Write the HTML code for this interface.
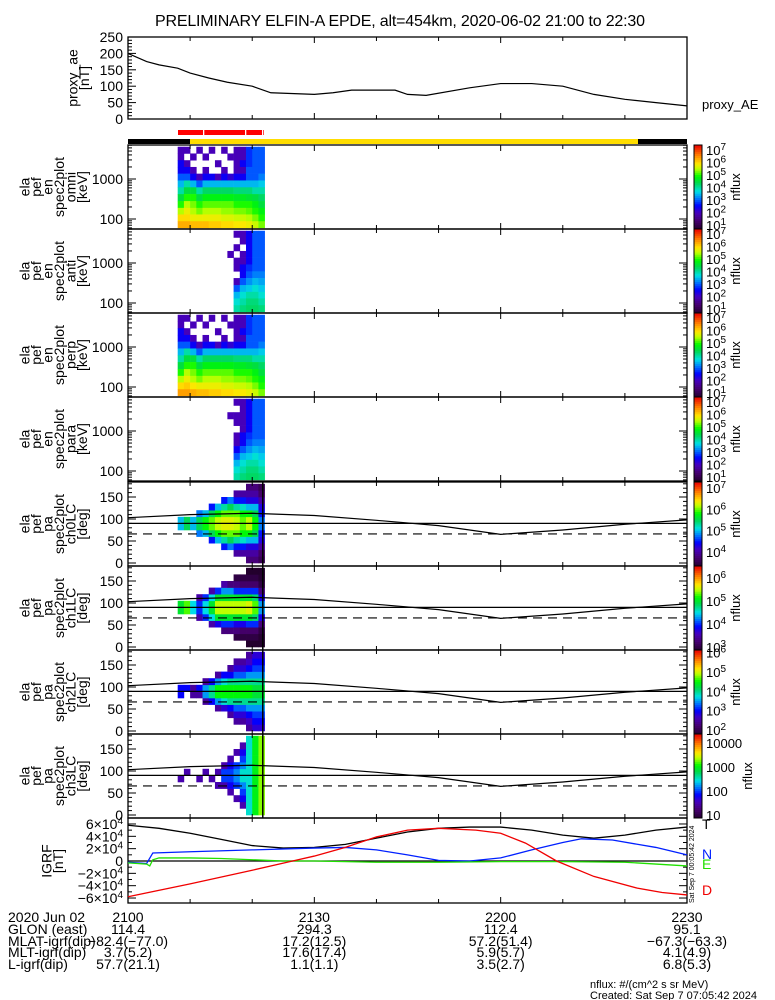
<!DOCTYPE html>
<html><head><meta charset="utf-8"><style>
html,body{margin:0;padding:0;background:#fff;}
svg{display:block;font-family:"Liberation Sans",sans-serif;}
</style></head><body>
<svg id="c" width="775" height="1000" viewBox="0 0 775 1000" xmlns="http://www.w3.org/2000/svg">
<rect x="0" y="0" width="775" height="1000" fill="#fff"/>
<text x="400" y="26" font-size="16" text-anchor="middle" textLength="490">PRELIMINARY ELFIN-A EPDE, alt=454km, 2020-06-02 21:00 to 22:30</text>
</svg>
<script>
// ---------- data ----------
const aeTimes = [0,3,5,8,10,13,16,20,23,30,33,36,43,45,48,55,60,65,70,75,80,85,90];
const aeValues = [200,175,165,155,140,125,112,100,80,75,80,88,88,75,72,95,108,108,100,75,60,50,40];
const aeTicks = [0,50,100,150,200,250];

const specTimes = [8,9,10,11,12,13,14,15,16,17,18,19,20,21];
const energyEdges = [60,88,130,190,280,420,620,920,1360,2000,2950,4350,6400];
const omniFlux = [
[2,2,2.5,2.5,3,3.5,4,4.5,5,5.5,6,6.3],
[2,0,2,2.5,3,4,4.5,5,5.5,5.8,6,6.3],
[0,2,0,2,2.5,3.5,4.5,5,5.3,5.5,5.8,6.2],
[2,0,0,0,2,3,4,4.5,5,5.3,5.8,6.2],
[0,2,0,2,2.5,3.5,4.3,4.8,5.2,5.5,5.8,6.2],
[2,0,0,0,2.5,3.5,4.3,4.8,5.2,5.5,5.8,6.1],
[0,0,2,0,2,3.5,4.3,4.8,5.2,5.5,5.8,6.1],
[2,0,0,2,2.5,3.5,4.3,4.8,5.2,5.4,5.7,6],
[0,2,0,0,2.2,3.5,4.3,4.8,5.2,5.4,5.7,6],
[2,2,2,2,2.5,3.5,4.2,4.7,5,5.3,5.6,5.9],
[2,2,2.5,2,2.5,3.5,4.2,4.7,5,5.3,5.6,5.9],
[2.8,2.8,2.8,3,3,3.5,4.2,4.6,5,5.2,5.5,5.8],
[3,3,3,3,3,3.5,4,4.5,4.8,5,5.3,5.6],
[3,3,3,3,3.2,3.6,4,4.3,4.5,4.8,5,5.3]];
const antiFlux = [
[0,0,0,0,0,0,0,0,0,0,0,0],[0,0,0,0,0,0,0,0,0,0,0,0],[0,0,0,0,0,0,0,0,0,0,0,0],
[0,0,0,0,0,0,0,0,0,0,0,0],[0,0,0,0,0,0,0,0,0,0,0,0],[0,0,0,0,0,0,0,0,0,0,0,0],
[0,0,0,0,0,0,0,0,0,0,0,0],[0,0,0,0,0,0,0,0,0,0,0,0],
[0,0,0,2,0,0,0,0,0,0,0,0],
[2,0,2,0,2,2,0,2,3,3.5,3.8,4],
[2,2,0,2,2,2.5,2.5,3,3.5,3.8,4,4.2],
[2.5,2.5,2.5,2.5,2.5,2.8,3,3.3,3.6,4,4.2,4.3],
[3,3,3,3,3,3,3.2,3.5,3.8,4,4.2,4.3],
[3,3,3,3,3,3,3.2,3.4,3.6,3.8,4,4.2]];
const perpFlux = [
[2,2,2.5,2.5,3,3.5,4,4.5,5,5.5,6,6.4],
[2,0,2,2.5,3,4,4.5,5,5.5,5.8,6.1,6.4],
[0,2,0,2,2.5,3.5,4.5,5,5.3,5.5,5.9,6.3],
[2,0,0,0,2,3,4,4.5,5,5.3,5.8,6.2],
[0,2,0,2,2.5,3.5,4.3,4.8,5.2,5.5,5.8,6.2],
[2,0,0,0,2.5,3.5,4.3,4.8,5.2,5.5,5.8,6.1],
[0,0,2,0,2,3.5,4.3,4.8,5.2,5.5,5.8,6.1],
[2,0,0,2,2.5,3.5,4.3,4.8,5.2,5.4,5.7,6],
[0,2,0,0,2.2,3.5,4.3,4.8,5.2,5.4,5.7,6],
[2,2,2,2,2.5,3.5,4.2,4.7,5,5.3,5.6,5.9],
[2,2,2.5,2,2.5,3.5,4.2,4.7,5,5.3,5.6,5.9],
[2.8,2.8,2.8,3,3,3.5,4.2,4.6,5,5.2,5.5,5.8],
[3,3,3,3,3,3.5,4,4.5,4.8,5,5.3,5.6],
[3,3,3,3,3.2,3.6,4,4.3,4.5,4.8,5,5.3]];
const paraFlux = [
[0,0,0,0,0,0,0,0,0,0,0,0],[0,0,0,0,0,0,0,0,0,0,0,0],[0,0,0,0,0,0,0,0,0,0,0,0],
[0,0,0,0,0,0,0,0,0,0,0,0],[0,0,0,0,0,0,0,0,0,0,0,0],[0,0,0,0,0,0,0,0,0,0,0,0],
[0,0,0,0,0,0,0,0,0,0,0,0],[0,0,0,0,0,0,0,0,0,0,0,0],
[0,0,2,0,0,0,0,0,0,0,0,0],
[2,0,2,2,0,2,2,2.5,3,3.5,3.8,4],
[2,2,2,2,2,2.5,2.5,3,3.5,3.8,4,4.2],
[2.5,2.5,2.5,2.5,2.5,2.8,3,3.3,3.6,4,4.2,4.3],
[3,3,3,3,3,3,3.2,3.5,3.8,4,4.2,4.3],
[3,3,3,3,3,3,3.2,3.4,3.6,3.8,4,4.2]];

const paEdges = [0,15,30,45,60,75,90,105,120,135,150,165,180];
const ch0Flux = [
[0,0,0,0,0,5,5,0,0,0,0,0],[0,0,0,0,0,5.5,5.5,0,0,0,0,0],[0,0,0,0,0,5,5,0,0,0,0,0],
[0,0,0,0,4.8,5.5,5.5,4.8,0,0,0,0],[0,0,0,0,5,5.8,5.8,5,0,0,0,0],
[0,0,0,4.5,5.5,6,6,5.5,4.5,0,0,0],[0,0,0,5,5.8,6.2,6.2,5.8,5,0,0,0],
[0,0,4.5,5.3,6,6.3,6.3,6,5.3,4.5,0,0],[0,0,4.8,5.5,6,6.3,6.3,6,5.5,4.8,0,0],
[0,4,4.5,5.3,6,6.2,6.2,6,5.3,4.5,4,0],[0,4,4.5,5.2,5.8,6,6,5.8,5.2,4.5,4,0],
[3.8,4,4.3,5,5.8,6.2,6.2,5.8,5,4.3,4,3.8],[3.8,4,4.3,5,5.5,5.8,5.8,5.5,5,4.3,4,3.8],
[3.6,3.7,4,4.3,4.5,4.8,4.8,4.5,4.3,4,3.7,3.6]];
const ch1Flux = [
[0,0,0,0,0,5,5,0,0,0,0,0],[0,0,0,0,0,5.3,5.3,0,0,0,0,0],[0,0,0,0,0,4.5,4.5,0,0,0,0,0],
[0,0,0,0,3.5,4,4,3.5,0,0,0,0],[0,0,0,0,4,4.5,4.5,4,0,0,0,0],
[0,0,0,3.5,4.5,5,5,4.5,3.5,0,0,0],[0,0,0,3.8,5,5.5,5.5,5,4,0,0,0],
[0,0,3.3,4,5,5.5,5.5,5,4.3,3.5,0,0],[0,0,3.3,4,5,5.5,5.5,5,4.3,3.3,0,0],
[0,3,3.3,3.8,5,5.5,5.5,5,4,3.3,3,0],[0,3,3.2,3.8,5,5.5,5.5,5,4,3.2,3,0],
[2.8,3,3.2,4,5,5.6,5.6,5,4,3.2,3,2.8],[2.8,3,3.2,4,4.8,5.3,5.3,4.8,4,3.2,3,2.8],
[2.8,2.9,3,3.3,3.8,4.3,4.3,3.8,3.3,3,2.9,2.8]];
const ch2Flux = [
[0,0,0,0,0,3,3,0,0,0,0,0],[0,0,0,0,0,0,3,0,0,0,0,0],[0,0,0,0,0,2.5,2.5,0,0,0,0,0],
[0,0,0,0,0,2.5,3,0,0,0,0,0],[0,0,0,0,2.5,3.5,3.5,2.5,0,0,0,0],
[0,0,0,0,3,4,4,3,0,0,0,0],[0,0,0,2.5,3.5,4.5,4.5,3.5,2.5,0,0,0],
[0,0,0,2.8,3.8,4.5,4.5,3.8,3,0,0,0],[0,0,2.5,3,4,4.5,4.5,4,3,2.5,0,0],
[0,2.5,2.8,3.3,4,4.5,4.5,4,3.3,2.8,2.5,0],[0,2.5,2.8,3.3,4,4.5,4.5,4,3.3,2.8,2.5,0],
[2.5,2.7,3,3.5,4,4.5,4.5,4,3.5,3,2.7,2.5],[2.8,3,3.2,3.5,4,4.3,4.3,4,3.5,3.2,3,2.8],
[2.8,3,3.2,3.5,4,4.3,4.3,4,3.5,3.2,3,2.8]];
const ch3Flux = [
[0,0,0,0,0,1.5,0,0,0,0,0,0],[0,0,0,0,0,0,1.5,0,0,0,0,0],[0,0,0,0,0,0,0,0,0,0,0,0],
[0,0,0,0,0,1.5,0,0,0,0,0,0],[0,0,0,0,0,0,1.5,0,0,0,0,0],
[0,0,0,0,0,1.5,0,0,0,0,0,0],[0,0,0,0,1.5,0,1.5,0,0,0,0,0],
[0,0,0,0,1.5,2,2,1.5,0,0,0,0],[0,0,0,1.5,1.8,2,2,1.8,1.5,0,0,0],
[0,0,1.5,0,2,2.2,2.2,2,0,1.5,0,0],[0,1.5,1.8,2,2.2,2.5,2.5,2.2,2,1.8,1.5,0],
[2.5,2.5,2.5,2.5,2.5,2.5,2.5,2.5,2.5,2.5,2.5,2.5],[3,3,3,3,3,3,3,3,3,3,3,3],
[3.3,3.3,3.3,3.3,3.3,3.3,3.3,3.3,3.3,3.3,3.3,3.3]];

const lcTimes = [0,10,20,30,40,50,60,70,80,90];
const lcAngles = [103,110,113,108,97,85,65,75,88,98];
const lossCone = 66;

const igrfTTimes = [0,5,10,15,20,25,30,35,40,45,50,55,60,65,70,75,80,85,90];
const igrfT = [58,53,45,35,25,21,22,27,37,47,53,55,55,50,42,37,42,50,55];
const igrfNTimes = [0,3,4,10,20,30,35,40,45,50,55,60,65,70,73,78,85,90];
const igrfN = [-2,-4,13,15,18,21,22,18,10,1,0,5,18,30,36,34,22,10];
const igrfETimes = [0,3,3.5,4,5,10,15,20,25,30,40,50,60,70,80,85,90];
const igrfE = [-3,-5,-8,2,5,5,4,2,0,0,-2,-2,-1,-1,-2,-5,-8];
const igrfDTimes = [0,10,20,26.5,30,35,40,45,50,56,60,64,69,75,82,86,90];
const igrfD = [-58,-37,-15,0,8,22,39,50,53,50,45,29,0,-25,-44,-51,-55];
const igrfTicks = [60,40,20,0,-20,-40,-60];

const footerRows = ["2020 Jun 02","GLON (east)","MLAT-igrf(dip)","MLT-igrf(dip)","L-igrf(dip)"];
const footerCols = [
 ["2100","114.4","-82.4(-77.0)","3.7(5.2)","57.7(21.1)"],
 ["2130","294.3","17.2(12.5)","17.6(17.4)","1.1(1.1)"],
 ["2200","112.4","57.2(51.4)","5.9(5.7)","3.5(2.7)"],
 ["2230","95.1","-67.3(-63.3)","4.1(4.9)","6.8(5.3)"]];
const footerTimes = [0,30,60,90];

// ---------- helpers ----------
const S = document.getElementById('c');
const NS = 'http://www.w3.org/2000/svg';
const X0 = 128, X1 = 687;
function xOf(t){ return X0 + t*(X1-X0)/90; }
function mk(tag, attrs, parent){
  const e = document.createElementNS(NS, tag);
  for (const k in attrs) e.setAttribute(k, attrs[k]);
  (parent||S).appendChild(e);
  return e;
}
const stops = [[0,[35,0,45]],[0.1,[70,0,110]],[0.2,[70,0,190]],[0.28,[0,0,255]],[0.36,[0,110,255]],[0.45,[0,225,230]],[0.55,[0,215,80]],[0.63,[0,250,0]],[0.72,[190,255,0]],[0.78,[255,230,0]],[0.88,[255,130,0]],[1,[235,0,0]]];
function cmap(f){
  f = Math.max(0, Math.min(1, f));
  for (let i=1;i<stops.length;i++){
    if (f <= stops[i][0]){
      const a=stops[i-1], b=stops[i], u=(f-a[0])/(b[0]-a[0]);
      const c=a[1].map((v,j)=>Math.round(v+(b[1][j]-v)*u));
      return 'rgb('+c.join(',')+')';
    }
  }
  return 'rgb(235,0,0)';
}
function vlabel(lines, cx, cy, name){
  const g = mk('g', {});
  
  
  lines.forEach((s,i)=>{
    const x = cx + (i-(lines.length-1)/2)*11.5 + 5;
    const t = mk('text', {x:x, y:cy, 'font-size':14, 'text-anchor':'middle', transform:'rotate(-90 '+x+' '+cy+')'}, g);
    t.textContent = s;
  });
}
function xTicks(top, bot){
  for (let t=10;t<90;t+=10){
    const len = (t%30===0)?6:4;
    mk('line',{x1:xOf(t),x2:xOf(t),y1:top,y2:top+len,stroke:'#000','stroke-width':1});
    mk('line',{x1:xOf(t),x2:xOf(t),y1:bot,y2:bot-len,stroke:'#000','stroke-width':1});
  }
}
function frame(top, bot, name){
  const r = mk('rect',{x:X0,y:top,width:X1-X0,height:bot-top,fill:'none',stroke:'#000','stroke-width':1.3});
  
  
  xTicks(top, bot);
}
function colorbar(top, bot, vmin, vmax, labels, name, nfluxX){
  const g = mk('g',{});
  
  
  const n=40;
  for (let i=0;i<n;i++){
    mk('rect',{x:694,y:bot-(i+1)*(bot-top)/n,width:8,height:(bot-top)/n+0.5,fill:cmap((i+0.5)/n)},g);
  }
  mk('rect',{x:694,y:top,width:8,height:bot-top,fill:'none',stroke:'#000','stroke-width':1},g);
  labels.forEach(l=>{
    const y = bot - (l[0]-vmin)/(vmax-vmin)*(bot-top);
    const t = mk('text',{x:706,y:y+5,'font-size':13},g);
    if (l[1]) { t.textContent = l[1]; }
    else {
      t.textContent = '10';
      const sp = mk('tspan',{dy:-5,'font-size':10},t); sp.textContent = String(l[0]);
    }
  });
  const cy=(top+bot)/2, x=nfluxX;
  const nt = mk('text',{x:x,y:cy,'font-size':13,'text-anchor':'middle',transform:'rotate(-90 '+x+' '+cy+')'},g);
  nt.textContent='nflux';
}

// ---------- top AE panel ----------
const aeTop=37, aeBot=119;
function yAE(v){ return aeBot - v*(aeBot-aeTop)/250; }
frame(aeTop, aeBot, 'proxy-ae-panel');
for (let v=0; v<=250; v+=10){
  mk('line',{x1:X0,x2:X0+(v%50===0?8:4),y1:yAE(v),y2:yAE(v),stroke:'#000','stroke-width':1});
}
aeTicks.forEach(v=>{
  const t = mk('text',{x:123,y:yAE(v)+5,'font-size':14,'text-anchor':'end'});
  
  
  t.textContent = v;
});
const aeLine = mk('polyline',{points:aeTimes.map((t,i)=>xOf(t)+','+yAE(aeValues[i])).join(' '),fill:'none',stroke:'#000','stroke-width':1.2});


vlabel(['proxy_ae','[nT]'], 78, 78, 'proxy-ae-axis-title');
const aeName = mk('text',{x:702,y:109,'font-size':13});


aeName.textContent='proxy_AE';

// ---------- status bars ----------
const redBar = mk('rect',{x:178,y:130,width:86,height:5,fill:'#f00'});


[203,245,262].forEach(x=>mk('rect',{x:x,y:130,width:1.3,height:5,fill:'#fff'}));
const b1 = mk('rect',{x:128,y:139,width:62,height:5,fill:'#000'});


const b2 = mk('rect',{x:190,y:139,width:448,height:5,fill:'#ffdd00'});


const b3 = mk('rect',{x:638,y:139,width:49,height:5,fill:'#000'});



// ---------- energy spectrograms ----------
const specPanels = [
 {top:145,data:omniFlux,lab:'omni',name:'omni-spectrogram'},
 {top:229,data:antiFlux,lab:'anti',name:'anti-spectrogram'},
 {top:313,data:perpFlux,lab:'perp',name:'perp-spectrogram'},
 {top:397,data:paraFlux,lab:'para',name:'para-spectrogram'}];
const eLogTop = 3.85, eLogBot = 1.75;
specPanels.forEach(p=>{
  const top=p.top, bot=top+84;
  const yE = e => bot - (Math.log10(e)-eLogBot)/(eLogTop-eLogBot)*(bot-top);
  const g = mk('g',{});
  
  
  specTimes.forEach((t,ci)=>{
    p.data[ci].forEach((v,ri)=>{
      if (!v) return;
      const bi = 11-ri;
      const y1=yE(energyEdges[bi+1]), y2=yE(energyEdges[bi]);
      const c = mk('rect',{x:xOf(t),y:y1,width:xOf(t+1)-xOf(t)+0.3,height:y2-y1+0.3,fill:cmap((v-0.7)/6.7)},g);
      
      
    });
  });
  frame(top, bot, p.name+'-frame');
  for (let d=1; d<=3; d++) for (let k=1;k<10;k++){
    const e=k*Math.pow(10,d); const y=yE(e);
    if (y<top||y>bot) continue;
    const len = k===1?8:4;
    mk('line',{x1:X0,x2:X0+len,y1:y,y2:y,stroke:'#000','stroke-width':1});
    mk('line',{x1:X1,x2:X1-len,y1:y,y2:y,stroke:'#000','stroke-width':1});
  }
  [[100,'100'],[1000,'1000']].forEach(l=>{
    const t=mk('text',{x:123,y:yE(l[0])+5,'font-size':14,'text-anchor':'end'});
    
    
    t.textContent=l[1];
  });
  vlabel(['ela','pef','en','spec2plot',p.lab,'[keV]'], 53, top+42, p.name+'-axis-title');
  colorbar(top, bot, 0.7, 7.4, [[7],[6],[5],[4],[3],[2],[1]], p.name+'-colorbar', 740);
});

// ---------- pitch angle spectrograms ----------
const paPanels = [
 {top:482,data:ch0Flux,lab:'ch0LC',vmin:3.35,vmax:7.28,cb:[[7],[6],[5],[4]],name:'ch0-pitch-angle'},
 {top:566,data:ch1Flux,lab:'ch1LC',vmin:2.87,vmax:6.52,cb:[[6],[5],[4],[3]],name:'ch1-pitch-angle'},
 {top:650,data:ch2Flux,lab:'ch2LC',vmin:1.8,vmax:6.13,cb:[[6],[5],[4],[3],[2]],name:'ch2-pitch-angle'},
 {top:734,data:ch3Flux,lab:'ch3LC',vmin:0.87,vmax:4.37,cb:[[4,'10000'],[3,'1000'],[2,'100'],[1,'10']],name:'ch3-pitch-angle'}];
paPanels.forEach(p=>{
  const top=p.top, bot=top+84;
  const yP = a => bot-3 - a*0.44;
  const g = mk('g',{});
  
  
  specTimes.forEach((t,ci)=>{
    p.data[ci].forEach((v,bi)=>{
      if (!v) return;
      const y1=yP(paEdges[bi+1]), y2=yP(paEdges[bi]);
      const c = mk('rect',{x:xOf(t),y:y1,width:xOf(t+1)-xOf(t)+0.3,height:y2-y1+0.3,fill:cmap((v-p.vmin)/(p.vmax-p.vmin))},g);
      
      
    });
  });
  mk('line',{x1:xOf(21.7),x2:xOf(21.7),y1:top,y2:bot,stroke:'#000','stroke-width':1.5});
  frame(top, bot, p.name+'-frame');
  for (let a=0;a<=180;a+=10){
    const len = a%50===0?8:4;
    mk('line',{x1:X0,x2:X0+len,y1:yP(a),y2:yP(a),stroke:'#000','stroke-width':1});
    mk('line',{x1:X1,x2:X1-len,y1:yP(a),y2:yP(a),stroke:'#000','stroke-width':1});
  }
  [0,50,100,150].forEach(a=>{
    const t=mk('text',{x:123,y:yP(a)+5,'font-size':14,'text-anchor':'end'});
    
    
    t.textContent=a;
  });
  const h = mk('line',{x1:X0,x2:X1,y1:yP(90),y2:yP(90),stroke:'#000','stroke-width':1.2});
  
  
  const d = mk('line',{x1:X0,x2:X1,y1:yP(lossCone),y2:yP(lossCone),stroke:'#000','stroke-width':1.2,'stroke-dasharray':'9,6'});
  
  
  const lc = mk('polyline',{points:lcTimes.map((t,i)=>xOf(t)+','+yP(lcAngles[i])).join(' '),fill:'none',stroke:'#000','stroke-width':1.2});
  
  
  vlabel(['ela','pef','pa','spec2plot',p.lab,'[deg]'], 53, top+42, p.name+'-axis-title');
  colorbar(top, bot, p.vmin, p.vmax, p.cb, p.name+'-colorbar', p.lab==='ch3LC'?752:740);
});

// ---------- IGRF panel ----------
const igTop=818, igBot=903;
const yI = v => 861 - v*0.617;
frame(igTop, igBot, 'igrf-panel');
for (let v=-60; v<=60; v+=10){
  const len = v%20===0?8:4;
  mk('line',{x1:X0,x2:X0+len,y1:yI(v),y2:yI(v),stroke:'#000','stroke-width':1});
  mk('line',{x1:X1,x2:X1-len,y1:yI(v),y2:yI(v),stroke:'#000','stroke-width':1});
}
igrfTicks.forEach(v=>{
  const t=mk('text',{x:123,y:yI(v)+5,'font-size':14,'text-anchor':'end'});
  
  
  if (v===0){ t.textContent='0'; }
  else {
    t.textContent=(v<0?'\u2212':'')+Math.abs(v/10)+'\u00d710';
    const sp=mk('tspan',{dy:-5,'font-size':10},t); sp.textContent='4';
  }
});
const zl = mk('line',{x1:X0,x2:X1,y1:yI(0),y2:yI(0),stroke:'#000','stroke-width':1.2});


function igLine(ts, vs, col, name){
  const l = mk('polyline',{points:ts.map((t,i)=>xOf(t)+','+yI(vs[i])).join(' '),fill:'none',stroke:col,'stroke-width':1.3});
  
  
}
igLine(igrfTTimes, igrfT, '#000', 'igrf-total-line');
igLine(igrfNTimes, igrfN, '#0020ff', 'igrf-north-line');
igLine(igrfETimes, igrfE, '#20e000', 'igrf-east-line');
igLine(igrfDTimes, igrfD, '#f00000', 'igrf-down-line');
vlabel(['IGRF','[nT]'], 52, 861, 'igrf-axis-title');
[['T','#000',829],['N','#0020ff',859],['E','#20e000',869],['D','#f00000',895]].forEach(l=>{
  const t=mk('text',{x:702,y:l[2],'font-size':14,fill:l[1]});
  
  
  t.textContent=l[0];
});
const stamp = mk('text',{x:694,y:903,'font-size':7,transform:'rotate(-90 694 903)'});


stamp.textContent='Sat Sep  7 00:05:42 2024';

// ---------- footer ----------
const rowY = [922,934,946,957,969];
footerRows.forEach((r,i)=>{
  const t=mk('text',{x:8,y:rowY[i],'font-size':14});
  
  
  t.textContent=r;
});
footerCols.forEach((col,ci)=>{
  col.forEach((s,i)=>{
    const t=mk('text',{x:xOf(footerTimes[ci]),y:rowY[i],'font-size':14,'text-anchor':'middle'});
    
    
    t.textContent=s.replace(/-/g,'\u2212');
  });
});
const n1=mk('text',{x:590,y:988,'font-size':11});


n1.textContent='nflux: #/(cm^2 s sr MeV)';
const n2=mk('text',{x:590,y:999,'font-size':11});


n2.textContent='Created: Sat Sep  7 07:05:42 2024';
</script>
</body></html>
